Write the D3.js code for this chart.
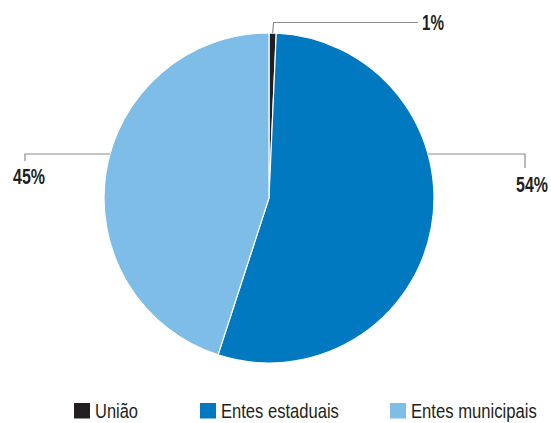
<!DOCTYPE html>
<html>
<head>
<meta charset="utf-8">
<style>
  body { margin: 0; background: #fff; }
  text { font-family: "Liberation Sans", Arial, sans-serif; fill: #231f20; }
  .pct { font-weight: bold; font-size: 22px; }
  .leg { font-size: 21px; }
</style>
</head>
<body>
<svg width="551" height="423"></svg>
<script src="https://d3js.org/d3.v7.min.js"></script>
<script>
// data
var categories = ["União", "Entes estaduais", "Entes municipais"];
var values = [0.7, 54.3, 45.0];
var labels = ["1%", "54%", "45%"];
var colors = ["#231f20", "#0079c1", "#7dbde8"];

var svg = d3.select("svg");
var cx = 269, cy = 198, r = 165;

var pie = d3.pie().sort(null).value(function (d) { return d; });
var arcs = pie(values);
var arc = d3.arc().innerRadius(0).outerRadius(r);

var g = svg.append("g").attr("transform", "translate(" + cx + "," + cy + ")");
g.selectAll("path")
  .data(arcs)
  .enter().append("path")
  .attr("d", arc)
  .attr("fill", function (d, i) { return colors[i]; })
  .attr("stroke", "#fff")
  .attr("stroke-width", 1.2);

// leader lines
function pt(a, rr) { return [cx + Math.sin(a) * rr, cy - Math.cos(a) * rr]; }
var lines = svg.append("g").attr("fill", "none").attr("stroke", "#8c8c8c").attr("stroke-width", 1.2);

var p0 = pt((arcs[0].startAngle + arcs[0].endAngle) / 2, r);
lines.append("path").attr("d", d3.line()([[p0[0], p0[1]], [p0[0] + 1, 22.5], [418, 22.5]]));
lines.append("path").attr("d", d3.line()([[428, 154], [525, 154], [525, 168]]));
lines.append("path").attr("d", d3.line()([[110, 154], [25, 154], [25, 161]]));

// condensed text: squeeze horizontally to a target width
function narrowText(cls, x, y, w, t) {
  var el = svg.append("text").attr("class", cls).text(t);
  var nat = el.node().getComputedTextLength();
  el.attr("transform", "translate(" + x + "," + y + ") scale(" + (w / nat) + ",1)");
  return el;
}

// percentage labels
var pctPos = [[422, 30, 22], [516, 192, 32], [13, 184, 32]];
labels.forEach(function (t, i) {
  narrowText("pct", pctPos[i][0], pctPos[i][1], pctPos[i][2], t);
});

// legend
var legX = [74, 200, 390];
var legW = [43, 118, 126];
categories.forEach(function (c, i) {
  svg.append("rect").attr("x", legX[i]).attr("y", 403).attr("width", 16).attr("height", 15.5).attr("fill", colors[i]);
  narrowText("leg", legX[i] + 21, 418, legW[i], c);
});
</script>
</body>
</html>
